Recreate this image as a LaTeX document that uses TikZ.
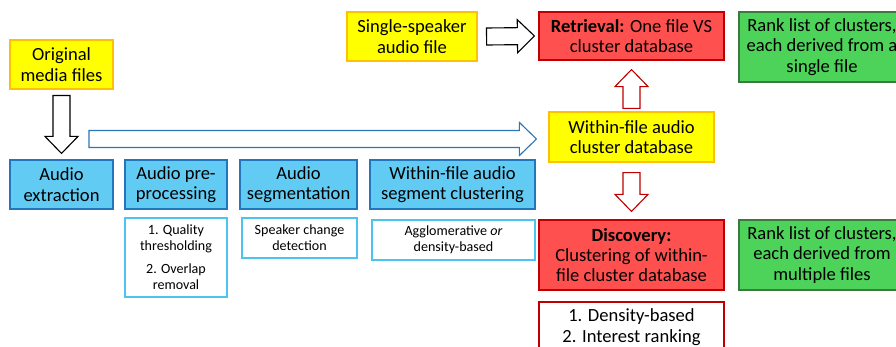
\documentclass[tikz,border=0pt]{standalone}
\usepackage{fontspec}
\setmainfont{Carlito}
\usetikzlibrary{calc}

\definecolor{yelfill}{HTML}{FFFF00}
\definecolor{yelline}{HTML}{FFC000}
\definecolor{bluefill}{HTML}{61CBF3}
\definecolor{blueline}{HTML}{2276BE}
\definecolor{noteline}{HTML}{4DC3F0}
\definecolor{redfill}{HTML}{FF5050}
\definecolor{redline}{HTML}{C00000}
\definecolor{grnfill}{HTML}{4DD25A}
\definecolor{grnline}{HTML}{3B7A3E}
\definecolor{arrowblue}{HTML}{2E75B6}

\tikzset{
  size/.style 2 args={minimum width=#1*0.025cm, minimum height=#2*0.025cm},
  box/.style={draw, line width=0.8pt, align=center, inner sep=0pt,
    font=\fontsize{13.2}{14.5}\selectfont},
  note/.style={box, fill=white, font=\fontsize{10}{11.4}\selectfont},
  blockarrow/.style={line width=0.8pt, line join=miter,
    to path={
      ($(\tikztostart)!0.2125cm!90:(\tikztotarget)$) --
      ($($(\tikztotarget)!0.425cm!(\tikztostart)$)!0.2125cm!90:(\tikztotarget)$) --
      ($($(\tikztotarget)!0.425cm!(\tikztostart)$)!0.4125cm!90:(\tikztotarget)$) --
      (\tikztotarget) --
      ($($(\tikztotarget)!0.425cm!(\tikztostart)$)!0.4125cm!-90:(\tikztotarget)$) --
      ($($(\tikztotarget)!0.425cm!(\tikztostart)$)!0.2125cm!-90:(\tikztotarget)$) --
      ($(\tikztostart)!0.2125cm!-90:(\tikztotarget)$) -- cycle}}
}

\begin{document}
\begin{tikzpicture}[x=0.025cm, y=-0.025cm]

      \useasboundingbox (0,0) rectangle (896,347);

      \begin{scope}[every node/.style={box, fill=yelfill, draw=yelline}]
        \node[size={103}{49}] (orig)   at (61.5,64.5) {Original\\media files};
        \node[size={130}{49}] (single) at (412,36.5)  {Single-speaker\\audio file};
        \node[size={165}{50}] (db)     at (631.5,137) {Within-file audio\\cluster database};
      \end{scope}

      \begin{scope}[every node/.style={box, fill=bluefill, draw=blueline}]
        \node[size={103}{49}] (extr) at (61.5,184.5)  {Audio\\extraction};
        \node[size={102}{49}] (prep) at (176,184.5)   {Audio pre-\\processing};
        \node[size={117}{49}] (segm) at (298.5,184.5) {Audio\\segmentation};
        \node[size={165}{49}] (clus) at (452.5,184.5) {Within-file audio\\segment clustering};
      \end{scope}

      \begin{scope}[every node/.style={note, draw=noteline}]
        \node[size={102}{79}] (qual) at (176,257.5) {1. Quality\\thresholding\\[5pt]2. Overlap\\removal};
        \node[size={115}{40}] (spk)  at (299.5,238) {Speaker change\\detection};
        \node[size={163}{40}] (aggl) at (453.5,240) {Agglomerative \emph{or}\\density-based};
      \end{scope}

      \begin{scope}[every node/.style={box, fill=redfill, draw=redline}]
        \node[size={185}{48}] (retr) at (631.5,36)  {\textbf{Retrieval:} One file VS\\cluster database};
        \node[size={185}{70}] (disc) at (631.5,255) {\textbf{Discovery:}\\Clustering of within-\\file cluster database};
      \end{scope}

      \node[box, fill=white, draw=redline, size={185}{50}] (dsub) at (631.5,327)
        {1. Density-based\\2. Interest ranking};

      \begin{scope}[every node/.style={box, fill=grnfill, draw=grnline}]
        \node[size={166}{70}] (rank1) at (822,47)  {Rank list of clusters,\\each derived from a\\single file};
        \node[size={166}{70}] (rank2) at (822,255) {Rank list of clusters,\\each derived from\\multiple files};
      \end{scope}

      \coordinate (flowstart) at (89,139);

      \begin{scope}[every path/.style={blockarrow, fill=white}]
        \draw[draw=black] ([yshift=-0.15cm]orig.south) to ([yshift=0.15cm]extr.north);
        \draw[draw=arrowblue] (flowstart) to ([xshift=-0.3cm, yshift=-0.05cm]db.west);
        \draw[draw=black] ([xshift=0.225cm]single.east) to ([xshift=-0.1cm]retr.west);
        \draw[draw=redline] ([yshift=0.075cm]db.north) to ([yshift=-0.225cm]retr.south);
        \draw[draw=redline] ([yshift=-0.25cm]db.south) to ([yshift=0.2cm]disc.north);
      \end{scope}

    \end{tikzpicture}
\end{document}
